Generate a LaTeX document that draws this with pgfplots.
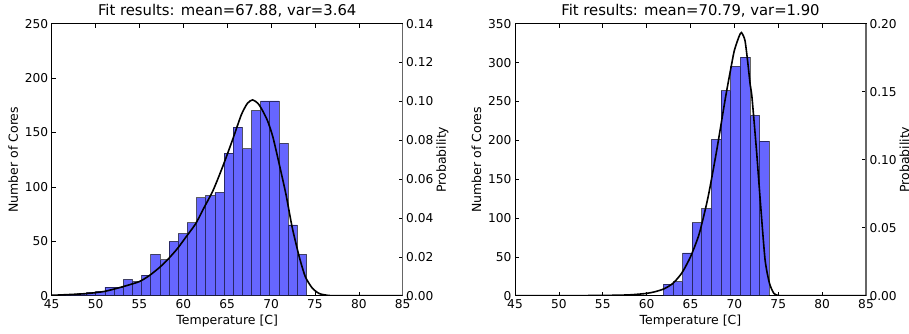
\documentclass[border=0pt]{standalone}
\usepackage{fontspec}
\setmainfont{DejaVu Sans}
\usepackage{pgfplots}
\pgfplotsset{compat=1.18}
\definecolor{barblue}{RGB}{102,102,255}
\pgfplotsset{
 base/.style={scale only axis, width=351pt, height=272pt, xmin=45, xmax=85,
  tick align=inside, major tick length=4pt, tick style={black, line width=0.6pt},
  /pgf/number format/assume math mode=true,
  tick label style={font=\fontsize{12.2}{13}\selectfont},
  label style={font=\fontsize{12.5}{14}\selectfont},
  axis line style={line width=0.8pt},
  title style={font=\fontsize{14.8}{16}\selectfont, yshift=-3pt},
 },
 countax/.style={base, ymin=0, xtick={45,50,...,85}, ytick pos=left, xtick pos=both,
  xlabel={Temperature [C]}, ylabel={Number of Cores}},
 probax/.style={base, axis x line=none, axis y line*=right, ymin=0, ylabel={Probability},
  ylabel style={yshift=4pt},
  y axis line style={black!60, line width=1.2pt},
  yticklabel style={/pgf/number format/.cd, fixed, fixed zerofill, precision=2}},
 bars/.style={ybar interval, fill=barblue, draw=black, draw opacity=0.6, line width=0.8pt},
 fit/.style={black, line width=1.6pt, smooth, tension=0.4},
}
\begin{document}
\begin{tikzpicture}
\useasboundingbox (0,0) rectangle (909pt,333pt);
% ---------- left ----------
\begin{axis}[countax, at={(51.7pt,37.3pt)}, anchor=south west, ymax=250, ytick={0,50,100,150,200,250},
  title={Fit results: mean=67.88, var=3.64}]
\addplot[bars] coordinates {
(45.849,1) (46.893,1) (47.937,2) (48.981,3) (50.026,4) (51.070,8) (52.114,8)
(53.158,15) (54.202,13) (55.246,19) (56.290,38) (57.334,33) (58.378,50)
(59.423,57) (60.467,67) (61.511,90) (62.555,92) (63.599,95) (64.643,131)
(65.687,155) (66.731,135) (67.775,170) (68.819,179) (69.864,179) (70.908,140)
(71.952,65) (72.996,38) (74.040,38)};
\end{axis}
\begin{axis}[probax, at={(51.7pt,37.3pt)}, anchor=south west, ymax=0.14,
  ytick={0,0.02,0.04,0.06,0.08,0.10,0.12,0.14}]
\addplot[fit] coordinates {
(45,0.0002) (47,0.0006) (49,0.0011) (51,0.0022) (53,0.0045) (55,0.0073)
(56.2,0.0106) (57.3,0.0146) (58.2,0.0185) (59.3,0.0241) (60.3,0.0302)
(61.4,0.0370) (62.3,0.0448) (63.4,0.0543) (64.5,0.0666) (65.6,0.0801)
(66.6,0.0930) (67.3,0.0990) (67.9,0.1008) (68.5,0.0990) (69.0,0.0955) (69.6,0.0900) (70.2,0.0818)
(70.9,0.0683) (71.7,0.0521) (72.4,0.0353) (73.2,0.0202) (73.9,0.0098)
(74.7,0.0039) (75.5,0.0011) (76.6,0.0001) (78,0) (85,0)};
\end{axis}
% ---------- right ----------
\begin{axis}[countax, at={(515pt,37.3pt)}, anchor=south west, ymax=350, ytick={0,50,100,150,200,250,300,350},
  title={Fit results: mean=70.79, var=1.90}]
\addplot[bars] coordinates {
(61.910,15) (63.005,18) (64.100,55) (65.196,94) (66.290,112) (67.388,201)
(68.480,264) (69.580,295) (70.675,307) (71.770,232) (72.865,199) (73.960,199)};
\end{axis}
\begin{axis}[probax, at={(515pt,37.3pt)}, anchor=south west, ymax=0.20,
  ytick={0,0.05,0.10,0.15,0.20}]
\addplot[fit] coordinates {
(45,0) (50,0) (55,0.0002) (58,0.0006) (60,0.0017) (61,0.0030) (62,0.0051)
(63,0.0091) (64,0.0166) (65,0.0286) (66,0.0457) (67,0.0725) (68,0.1074)
(69,0.1462) (69.7,0.1707) (70,0.1804) (70.5,0.1901) (70.8,0.1935) (71.2,0.1879)
(71.5,0.1730) (71.8,0.1553) (72,0.1462) (72.5,0.1085) (73,0.0657) (73.5,0.0263)
(74,0.0091) (74.5,0.0017) (75,0.0002) (76,0) (85,0)};
\end{axis}
\end{tikzpicture}
\end{document}
